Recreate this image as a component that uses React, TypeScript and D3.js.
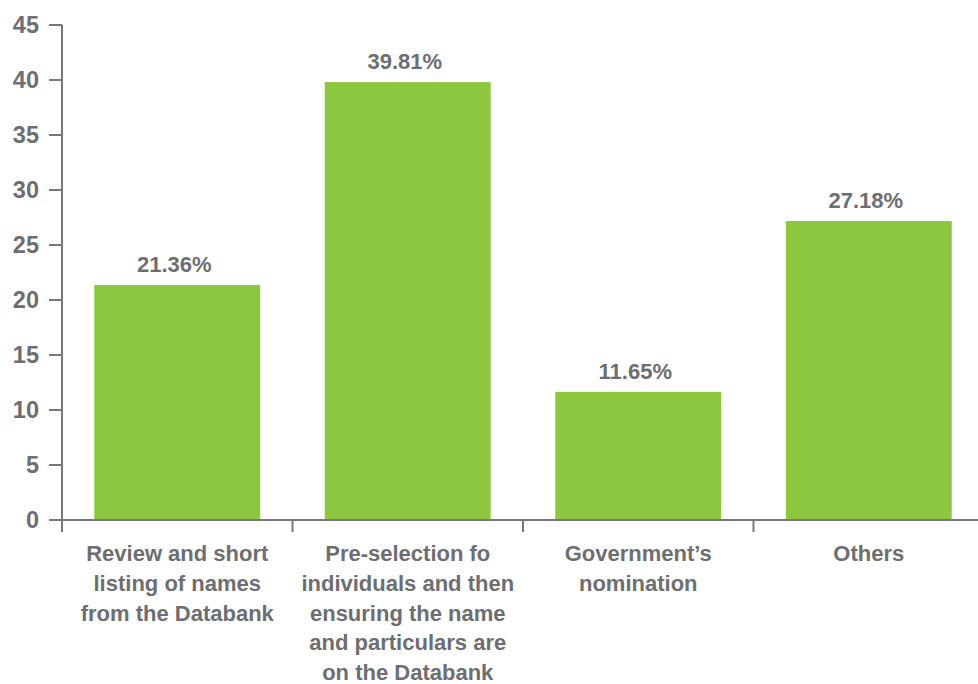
import React from "react";
import * as d3 from "d3";

const categories: string[][] = [
  ["Review and short", "listing of names", "from the Databank"],
  ["Pre-selection fo", "individuals and then", "ensuring the name", "and particulars are", "on the Databank"],
  ["Government’s", "nomination"],
  ["Others"],
];
const values: number[] = [21.36, 39.81, 11.65, 27.18];
const valueLabels: string[] = ["21.36%", "39.81%", "11.65%", "27.18%"];
const yTicks: number[] = [0, 5, 10, 15, 20, 25, 30, 35, 40, 45];

const W = 978;
const H = 684;
const GREEN = "#8dc63f";
const TEXT = "#6d6e71";
const AXIS = "#77787b";
const FONT = "'Liberation Sans', Arial, sans-serif";

export default function App() {
  const x0 = 62;
  const x1 = 984;
  const yTop = 25;
  const yBot = 520;
  const idx = values.map((_, i) => String(i));
  const x = d3.scaleBand<string>().domain(idx).range([x0, x1]).paddingInner(0.28).paddingOuter(0.14);
  const xb = d3.scaleBand<string>().domain(idx).range([x0, x1]);
  const y = d3.scaleLinear().domain([0, 45]).range([yBot, yTop]);

  return (
    <svg width={W} height={H} style={{ position: "absolute", left: 0, top: 0 }} fontFamily={FONT}>
      {values.map((v, i) => (
        <rect key={i} x={x(String(i))} y={y(v)} width={x.bandwidth()} height={yBot - y(v)} fill={GREEN} />
      ))}
      {/* y axis */}
      <line x1={x0} x2={x0} y1={yTop} y2={532} stroke={AXIS} strokeWidth={2} />
      {yTicks.map((t) => (
        <g key={t}>
          <line x1={49} x2={x0} y1={y(t)} y2={y(t)} stroke={AXIS} strokeWidth={2} />
          <text x={39} y={y(t)} dy="0.36em" textAnchor="end" fontSize={23.5} fontWeight="bold" fill={TEXT}>
            {t}
          </text>
        </g>
      ))}
      {/* x axis */}
      <line x1={49} x2={W} y1={yBot} y2={yBot} stroke={AXIS} strokeWidth={2} />
      {idx.slice(1).map((k) => (
        <line key={k} x1={xb(k)} x2={xb(k)} y1={yBot} y2={532} stroke={AXIS} strokeWidth={2} />
      ))}
      {/* value labels */}
      {values.map((v, i) => (
        <text
          key={i}
          x={(x(String(i)) as number) + x.bandwidth() / 2 - 3}
          y={y(v) - 13}
          textAnchor="middle"
          fontSize={22}
          fontWeight="bold"
          fill={TEXT}
        >
          {valueLabels[i]}
        </text>
      ))}
      {/* category labels */}
      {categories.map((lines, i) => (
        <text
          key={i}
          x={(xb(String(i)) as number) + xb.bandwidth() / 2}
          y={561}
          textAnchor="middle"
          fontSize={22}
          fontWeight="bold"
          fill={TEXT}
        >
          {lines.map((l, j) => (
            <tspan key={j} x={(xb(String(i)) as number) + xb.bandwidth() / 2} dy={j === 0 ? 0 : 29.8}>
              {l}
            </tspan>
          ))}
        </text>
      ))}
    </svg>
  );
}
